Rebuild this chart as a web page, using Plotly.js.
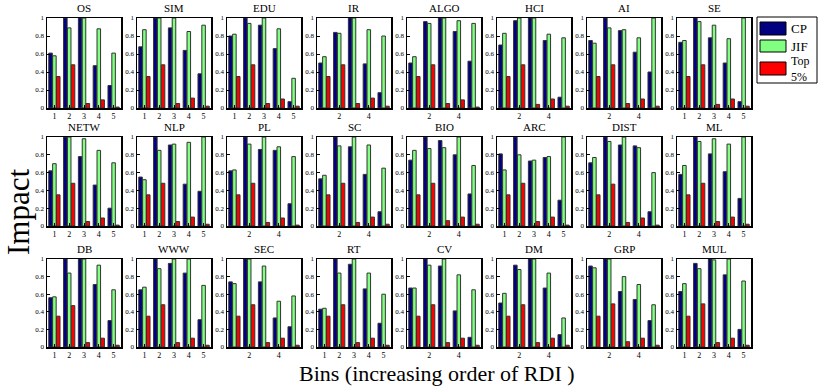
<!DOCTYPE html>
<html>
<head>
<meta charset="utf-8">
<script src="https://cdn.plot.ly/plotly-3.0.1.min.js"></script>
<style>
  html, body { margin: 0; padding: 0; background: #fff; }
  #plot { width: 830px; height: 388px; }
</style>
</head>
<body>
<div id="plot"></div>
<script>
// fields, one small multiple each (3 rows x 8 columns)
const fields = ["OS", "SIM", "EDU", "IR", "ALGO", "HCI", "AI", "SE",
  "NETW", "NLP", "PL", "SC", "BIO", "ARC", "DIST", "ML",
  "DB", "WWW", "SEC", "RT", "CV", "DM", "GRP", "MUL"];

const bins = [1, 2, 3, 4, 5];

// CP impact per bin
const cpValues = [
  [0.61, 1.0, 1.0, 0.47, 0.25], [0.68, 1.0, 0.89, 0.64, 0.38], [0.80, 1.0, 0.92, 0.66, 0.07], [0.50, 0.84, 1.0, 0.49, 0.17],
  [0.50, 0.96, 1.0, 0.85, 0.52], [0.70, 0.97, 1.0, 0.75, 0.12], [0.75, 1.0, 0.86, 0.62, 0.40], [0.73, 1.0, 0.78, 0.50, 0.07],
  [0.62, 1.0, 0.78, 0.46, 0.20], [0.55, 1.0, 0.91, 0.47, 0.39], [0.62, 1.0, 0.86, 0.85, 0.25], [0.53, 1.0, 0.89, 0.58, 0.16],
  [0.74, 1.0, 0.96, 0.80, 0.36], [0.81, 1.0, 0.73, 0.77, 0.29], [0.71, 1.0, 0.91, 0.90, 0.16], [0.58, 1.0, 0.81, 0.61, 0.31],
  [0.56, 1.0, 1.0, 0.71, 0.30], [0.65, 1.0, 0.95, 0.84, 0.31], [0.74, 1.0, 0.74, 0.33, 0.23], [0.43, 1.0, 0.94, 0.66, 0.27],
  [0.67, 1.0, 0.92, 0.41, 0.11], [0.50, 0.93, 1.0, 0.67, 0.14], [0.92, 1.0, 0.63, 0.54, 0.30], [0.63, 0.95, 1.0, 0.82, 0.20]
];

// JIF impact per bin
const jifValues = [
  [0.58, 0.89, 1.0, 0.88, 0.61], [0.87, 1.0, 1.0, 0.85, 0.92], [0.82, 0.94, 1.0, 0.88, 0.33], [0.57, 0.83, 1.0, 0.87, 0.80],
  [0.57, 0.94, 1.0, 0.97, 0.94], [0.83, 1.0, 1.0, 0.82, 0.78], [0.72, 0.89, 0.87, 0.78, 1.0], [0.75, 0.96, 0.92, 0.77, 1.0],
  [0.70, 1.0, 0.98, 0.85, 0.71], [0.52, 0.85, 0.92, 0.94, 1.0], [0.63, 0.92, 1.0, 0.89, 0.78], [0.57, 0.90, 1.0, 0.91, 0.65],
  [0.85, 0.87, 0.88, 1.0, 0.68], [0.63, 0.80, 0.74, 0.78, 1.0], [0.77, 0.95, 1.0, 0.88, 0.60], [0.68, 0.95, 0.98, 0.92, 1.0],
  [0.57, 0.84, 1.0, 0.93, 0.65], [0.68, 0.89, 1.0, 1.0, 0.70], [0.72, 1.0, 0.92, 0.52, 0.58], [0.44, 0.84, 1.0, 0.84, 0.60],
  [0.67, 0.93, 1.0, 0.82, 0.65], [0.61, 0.88, 1.0, 0.84, 0.33], [0.90, 1.0, 0.80, 0.71, 0.48], [0.72, 0.89, 0.99, 1.0, 0.75]
];

// Top 5% impact per bin
const topValues = [
  [0.35, 0.48, 0.05, 0.09, 0.01], [0.35, 0.48, 0.05, 0.11, 0.02], [0.35, 0.48, 0.05, 0.10, 0.02], [0.35, 0.48, 0.05, 0.11, 0.02],
  [0.35, 0.48, 0.05, 0.09, 0.01], [0.35, 0.48, 0.04, 0.10, 0.02], [0.35, 0.48, 0.05, 0.10, 0.02], [0.35, 0.48, 0.04, 0.10, 0.02],
  [0.35, 0.48, 0.05, 0.09, 0.01], [0.35, 0.48, 0.05, 0.10, 0.02], [0.35, 0.48, 0.04, 0.09, 0.01], [0.35, 0.48, 0.04, 0.10, 0.02],
  [0.35, 0.48, 0.06, 0.10, 0.02], [0.35, 0.48, 0.05, 0.10, 0.01], [0.35, 0.47, 0.04, 0.09, 0.01], [0.35, 0.48, 0.05, 0.10, 0.02],
  [0.35, 0.47, 0.05, 0.10, 0.02], [0.35, 0.48, 0.05, 0.10, 0.02], [0.35, 0.48, 0.05, 0.10, 0.02], [0.35, 0.48, 0.05, 0.10, 0.02],
  [0.35, 0.48, 0.05, 0.10, 0.02], [0.35, 0.48, 0.05, 0.10, 0.02], [0.35, 0.49, 0.06, 0.10, 0.02], [0.35, 0.49, 0.05, 0.10, 0.02]
];

// panels that only label bins 2 and 4
const sparseTicks = ["IR", "ALGO", "HCI", "AI", "PL", "SC", "BIO", "DIST", "SEC", "CV", "DM", "GRP"];

const seriesNames = ["CP", "JIF", "Top 5%"];
const seriesColors = ["#000080", "#80ff80", "#ff0000"];
const serif = "Liberation Serif, Times New Roman, serif";

const W = 830, H = 388;
const rowTops = [18, 137, 259];
const rowHeights = [90, 89, 88];
const colLeft0 = 47, colPitch = 90, boxW = 74;

const data = [];
const layout = {
  width: W, height: H,
  margin: { l: 0, r: 0, t: 0, b: 0 },
  paper_bgcolor: "#fff", plot_bgcolor: "#fff",
  barmode: "group", bargap: 0.22, bargroupgap: 0.08,
  showlegend: false,
  annotations: [],
  shapes: [],
  font: { family: serif, color: "#000" }
};

fields.forEach((name, i) => {
  const row = Math.floor(i / 8), col = i % 8;
  const n = i + 1;
  const xa = "x" + (n === 1 ? "" : n), ya = "y" + (n === 1 ? "" : n);
  const left = colLeft0 + col * colPitch, top = rowTops[row], boxH = rowHeights[row];

  [cpValues[i], jifValues[i], topValues[i]].forEach((vals, s) => {
    data.push({
      type: "bar", x: bins, y: vals, name: seriesNames[s],
      xaxis: xa, yaxis: ya,
      marker: { color: seriesColors[s], line: { color: "#333", width: 1 } },
      hoverinfo: "skip"
    });
  });

  const axisCommon = {
    showline: true, mirror: true, linecolor: "#000", linewidth: 1.5,
    ticks: "inside", ticklen: 3, tickcolor: "#000",
    showgrid: false, zeroline: false, fixedrange: true
  };
  const sparse = sparseTicks.includes(name);
  layout["xaxis" + (n === 1 ? "" : n)] = Object.assign({}, axisCommon, {
    domain: [left / W, (left + boxW) / W], anchor: ya, range: [0.5, 5.5],
    tickvals: sparse ? [2, 4] : bins,
    tickfont: { family: serif, size: 8, color: "#000" }
  });
  layout["yaxis" + (n === 1 ? "" : n)] = Object.assign({}, axisCommon, {
    domain: [1 - (top + boxH) / H, 1 - top / H], anchor: xa, range: [0, 1],
    tickvals: [0, 0.2, 0.4, 0.6, 0.8, 1],
    ticktext: ["0", "0.2", "0.4", "0.6", "0.8", "1"],
    tickfont: { family: serif, size: 7, color: "#000" }
  });

  layout.annotations.push({
    text: name, xref: "paper", yref: "paper",
    x: (left + boxW / 2) / W, y: 1 - (top - 2) / H,
    xanchor: "center", yanchor: "bottom", showarrow: false,
    font: { family: serif, size: 11, color: "#000" }
  });
});

// legend drawn as a framed key in the top right corner
const legX0 = 757, legX1 = 817, legY0 = 17, legY1 = 83;
const swatchRows = [[22, 35], [40, 52], [62, 75]];
const labelY = [29, 46, 69];
layout.shapes.push({
  type: "rect", xref: "paper", yref: "paper",
  x0: legX0 / W, x1: legX1 / W, y0: 1 - legY1 / H, y1: 1 - legY0 / H,
  line: { color: "#000", width: 1 }, fillcolor: "#fff"
});
seriesNames.forEach((s, k) => {
  layout.shapes.push({
    type: "rect", xref: "paper", yref: "paper",
    x0: 760 / W, x1: 786 / W, y0: 1 - swatchRows[k][1] / H, y1: 1 - swatchRows[k][0] / H,
    line: { color: "#000", width: 1 }, fillcolor: seriesColors[k]
  });
  layout.annotations.push({
    text: k === 2 ? "Top<br>5%" : s, xref: "paper", yref: "paper",
    x: 789 / W, y: 1 - labelY[k] / H, xanchor: "left", yanchor: "middle",
    align: "left", showarrow: false,
    font: { family: serif, size: k === 2 ? 12 : 13, color: "#000" }
  });
});

layout.annotations.push({
  text: "Impact", xref: "paper", yref: "paper",
  x: 19 / W, y: 1 - 212 / H, xanchor: "center", yanchor: "middle",
  textangle: -90, showarrow: false,
  font: { family: serif, size: 31, color: "#000" }
});
layout.annotations.push({
  text: "Bins (increasing order of RDI )", xref: "paper", yref: "paper",
  x: 437 / W, y: 1 - 373 / H, xanchor: "center", yanchor: "middle",
  showarrow: false,
  font: { family: serif, size: 22, color: "#000" }
});

Plotly.newPlot("plot", data, layout, { displayModeBar: false, staticPlot: true });
</script>
</body>
</html>
